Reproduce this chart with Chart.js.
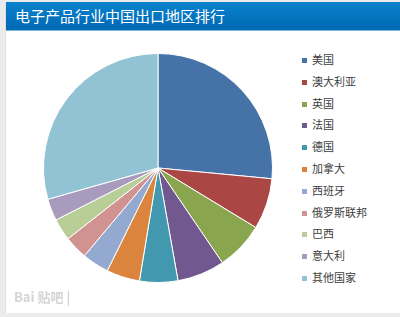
<!DOCTYPE html>
<html>
<head>
<meta charset="utf-8">
<script src="https://cdn.jsdelivr.net/npm/chart.js@4/dist/chart.umd.min.js"></script>
<style>
  body { margin: 0; width: 400px; height: 317px; background: #ebebeb; overflow: hidden;
         font-family: "Noto Sans CJK SC", "Noto Sans", sans-serif; }
  #panel { position: absolute; left: 5px; top: 2px; width: 395px; height: 311px;
           background: #fff; border-left: 1px solid #e0e0e0; box-sizing: border-box; }
  #title { position: absolute; left: 0; top: 0; width: 395px; height: 29px;
           background: linear-gradient(#0a82cd, #0068b3); border-bottom: 1px solid #7fb6e0;
           color: #fff; font-size: 15px; line-height: 28px; padding-left: 9px; box-sizing: border-box; }
  #pieBox { position: absolute; left: 0; top: 30px; width: 290px; height: 281px; }
  #legend { position: absolute; left: 296px; top: 47px; margin: 0; padding: 0; list-style: none; }
  #legend li { height: 21.8px; line-height: 21.8px; font-size: 11px; color: #404040; white-space: nowrap; }
  #legend span { display: inline-block; width: 5px; height: 5px; margin-right: 5px; vertical-align: 1px; }
  #mark { position: absolute; left: 8px; top: 285px; color: #d4d4d4; font-size: 13px; font-weight: bold; }
</style>
</head>
<body>
<div id="panel">
  <div id="title">电子产品行业中国出口地区排行</div>
  <div id="pieBox"><canvas id="pieChart1"></canvas></div>
  <ul id="legend"></ul>
  <div id="mark">Bai 贴吧 |</div>
</div>
<script>
// countries, clockwise from 12 o'clock
let countries = ["美国", "澳大利亚", "英国", "法国", "德国", "加拿大", "西班牙", "俄罗斯联邦", "巴西", "意大利", "其他国家"];
// share of exports (%)
let shares = [26.5, 7.2, 6.8, 6.7, 5.4, 4.7, 3.8, 3.3, 3.1, 3.1, 29.4];
let sliceColors = ["#4572a7", "#aa4643", "#89a54e", "#71588f", "#4198af", "#db843d",
                   "#93a9cf", "#d19392", "#b9cd96", "#a99bbd", "#92c3d5"];

let ctx = document.getElementById('pieChart1').getContext('2d');
let myChart = new Chart(ctx, {
    type: 'pie',
    data: {
        labels: countries,
        datasets: [{
            data: shares,
            backgroundColor: sliceColors,
            borderColor: '#ffffff',
            borderWidth: 1
        }]
    },
    options: {
        responsive: true,
        maintainAspectRatio: false,
        animation: false,
        layout: { padding: { left: 37, right: 23, top: 21, bottom: 30 } },
        plugins: {
            legend: { display: false },
            tooltip: { enabled: false }
        }
    }
});

// legend on the right, built from the same arrays
let ul = document.getElementById("legend");
countries.forEach(function (name, i) {
    let li = document.createElement("li");
    let box = document.createElement("span");
    box.style.background = sliceColors[i];
    li.appendChild(box);
    li.appendChild(document.createTextNode(name));
    ul.appendChild(li);
});
</script>
</body>
</html>
